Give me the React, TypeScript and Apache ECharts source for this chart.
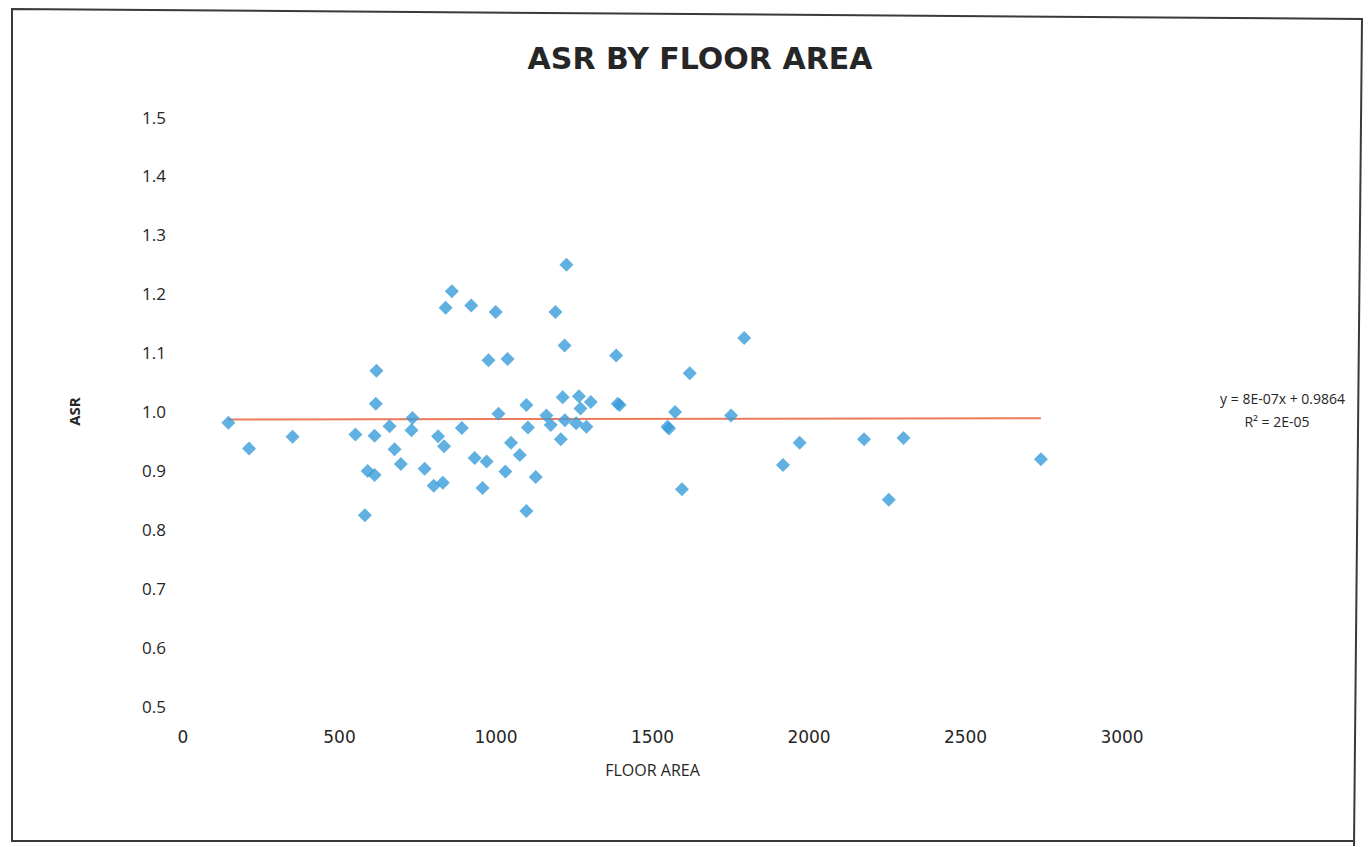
import React, { useEffect, useRef } from "react";
import * as echarts from "echarts";

const floorArea = [
  145, 211, 350, 551, 612, 618, 616, 660, 733, 730,
  676, 696, 590, 612, 581, 815, 834, 772, 801, 830,
  891, 932, 970, 957, 859, 839, 921, 999, 976, 1008,
  1225, 1190, 1219, 1037, 1384, 1793, 1619, 1097, 1213, 1265,
  1270, 1303, 1389, 1395, 1161, 1175, 1220, 1256, 1289, 1102,
  1207, 1048, 1076, 1030, 1127, 1097, 1548, 1553, 1572, 1751,
  1594, 1917, 1970, 2176, 2302, 2255, 2741,
];

const asr = [
  0.981, 0.937, 0.957, 0.961, 0.959, 1.069, 1.013, 0.975, 0.989, 0.968,
  0.936, 0.911, 0.899, 0.892, 0.824, 0.958, 0.941, 0.903, 0.874, 0.879,
  0.972, 0.921, 0.915, 0.870, 1.204, 1.176, 1.180, 1.169, 1.087, 0.996,
  1.249, 1.169, 1.112, 1.089, 1.095, 1.125, 1.065, 1.011, 1.024, 1.026,
  1.005, 1.016, 1.013, 1.011, 0.993, 0.977, 0.985, 0.980, 0.974, 0.973,
  0.953, 0.947, 0.926, 0.898, 0.889, 0.831, 0.974, 0.971, 0.999, 0.993,
  0.868, 0.909, 0.947, 0.953, 0.955, 0.850, 0.919,
];

const trendSlope = 8e-7;
const trendIntercept = 0.9864;
const equationText = "y = 8E-07x + 0.9864";
const r2Text = "R² = 2E-05";

const title = "ASR BY FLOOR AREA";
const xName = "FLOOR AREA";
const yName = "ASR";

export default function App() {
  const ref = useRef<HTMLDivElement>(null);

  useEffect(() => {
    if (!ref.current) return;
    const chart = echarts.init(ref.current, null, { renderer: "svg" });
    const points = floorArea.map((x, i) => [x, asr[i]]);
    const xMin = Math.min(...floorArea);
    const xMax = Math.max(...floorArea);
    const trend = [
      [xMin, trendSlope * xMin + trendIntercept],
      [xMax, trendSlope * xMax + trendIntercept],
    ];
    const font = "'Open Sans', 'DejaVu Sans', sans-serif";
    const wide = "'DejaVu Sans', sans-serif";

    chart.setOption({
      animation: false,
      backgroundColor: "#ffffff",
      title: {
        text: title,
        left: 695,
        top: 38,
        textAlign: "center",
        textStyle: {
          fontFamily: wide,
          fontWeight: "bold",
          fontSize: 30,
          color: "#262626",
        },
      },
      grid: { left: 183, top: 117, width: 939, height: 589 },
      xAxis: {
        type: "value",
        min: 0,
        max: 3000,
        interval: 500,
        name: xName,
        nameLocation: "middle",
        nameGap: 56,
        nameTextStyle: { fontFamily: font, fontSize: 16, color: "#262626" },
        axisLine: { show: false },
        axisTick: { show: false },
        splitLine: { show: false },
        axisLabel: {
          margin: 22,
          fontFamily: wide,
          fontSize: 17,
          color: "#262626",
          formatter: (v: number) => String(v),
        },
      },
      yAxis: {
        type: "value",
        min: 0.5,
        max: 1.5,
        interval: 0.1,
        name: yName,
        nameLocation: "middle",
        nameGap: 102,
        nameRotate: 90,
        nameTextStyle: {
          fontFamily: font,
          fontSize: 15,
          fontWeight: "bold",
          color: "#262626",
        },
        axisLine: { show: false },
        axisTick: { show: false },
        splitLine: { show: false },
        axisLabel: {
          margin: 17,
          fontFamily: font,
          fontSize: 17,
          color: "#262626",
          formatter: (v: number) => v.toFixed(1),
        },
      },
      series: [
        {
          type: "line",
          data: trend,
          symbol: "none",
          lineStyle: { color: "#EC7A5C", width: 2 },
          z: 1,
        },
        {
          type: "scatter",
          data: points,
          symbol: "diamond",
          symbolSize: [14, 14],
          itemStyle: { color: "#389CD9" },
          z: 2,
        },
      ],
      graphic: [
        {
          type: "polyline",
          shape: {
            points: [
              [12, 842],
              [12, 9],
              [1362, 19],
              [1354, 846],
            ],
          },
          style: { stroke: "#3a3a3a", lineWidth: 2, fill: "none" },
          silent: true,
        },
        {
          type: "line",
          shape: { x1: 12, y1: 841, x2: 1354, y2: 841 },
          style: { stroke: "#3a3a3a", lineWidth: 2 },
          silent: true,
        },
        {
          type: "text",
          x: 1345,
          y: 398,
          style: {
            text: equationText,
            font: `14px ${font}`,
            fill: "#262626",
            align: "right",
            verticalAlign: "middle",
          },
        },
        {
          type: "text",
          x: 1277,
          y: 421,
          style: {
            text: r2Text,
            font: `14px ${font}`,
            fill: "#262626",
            align: "center",
            verticalAlign: "middle",
          },
        },
      ],
    });
    return () => chart.dispose();
  }, []);

  return (
    <div
      ref={ref}
      style={{ position: "fixed", left: 0, top: 0, width: 1370, height: 847 }}
    />
  );
}
